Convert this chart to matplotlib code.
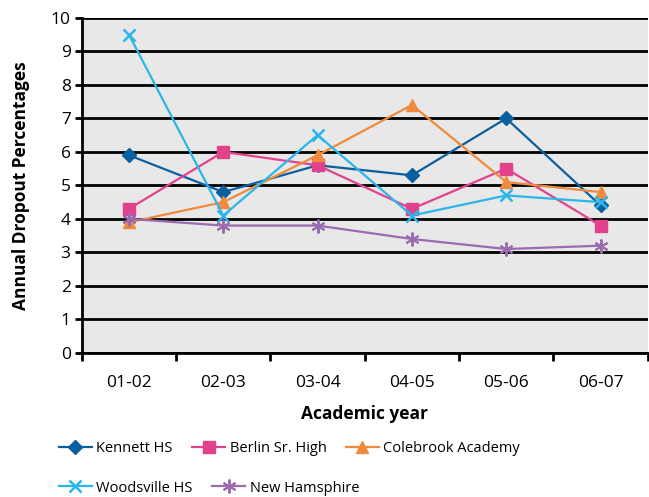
import numpy as np
import matplotlib.pyplot as plt

plt.rcParams['font.family'] = ['Open Sans', 'DejaVu Sans']

years = ['01-02', '02-03', '03-04', '04-05', '05-06', '06-07']
kennett = [5.9, 4.8, 5.6, 5.3, 7.0, 4.4]
berlin = [4.3, 6.0, 5.6, 4.3, 5.5, 3.8]
colebrook = [3.9, 4.5, 5.9, 7.4, 5.1, 4.8]
woodsville = [9.5, 4.1, 6.5, 4.1, 4.7, 4.5]
new_hampshire = [4.0, 3.8, 3.8, 3.4, 3.1, 3.2]

fig = plt.figure(figsize=(6.49, 4.97), dpi=100)
ax = fig.add_axes([0.126, 0.29, 0.872, 0.674])
ax.set_facecolor('#e8e8e8')

x = np.arange(len(years))
l1, = ax.plot(x, kennett, color='#0b5f9e', marker='D', markersize=7, lw=1.6, label='Kennett HS')
l2, = ax.plot(x, berlin, color='#e2428b', marker='s', markersize=9, lw=1.6, label='Berlin Sr. High')
l3, = ax.plot(x, colebrook, color='#f08a3c', marker='^', markersize=9, lw=1.6, label='Colebrook Academy')
l4, = ax.plot(x, woodsville, color='#2bb5e8', marker='x', markersize=9, mew=1.8, lw=1.6, label='Woodsville HS')
l5, = ax.plot(x, new_hampshire, color='#9b6bb0', marker=(6, 2, 0), markersize=10, mew=1.4, lw=1.6, label='New Hamsphire')

ax.set_xlim(-0.5, 5.5)
ax.set_ylim(0, 10)
ax.set_yticks(range(0, 11))
ax.yaxis.grid(True, color='black', lw=2)
ax.set_axisbelow(True)
ax.set_xticks(x)
ax.set_xticklabels(years, fontsize=12.5)
ax.set_xticks(np.arange(-0.5, 6, 1), minor=True)
ax.tick_params(axis='x', which='major', length=0, pad=16)
ax.tick_params(axis='x', which='minor', length=6, width=2, direction='out')
ax.tick_params(axis='y', length=5, width=2, labelsize=12.5, pad=3)
for s in ['top', 'right']:
    ax.spines[s].set_visible(False)
for s in ['left', 'bottom']:
    ax.spines[s].set_linewidth(2)

ax.set_xlabel('Academic year', fontsize=12.5, fontweight='bold', labelpad=10)
ax.set_ylabel('Annual Dropout Percentages', fontsize=12.5, fontweight='bold', labelpad=15)

leg1 = fig.legend(handles=[l1, l2, l3], ncol=3, loc='center left', bbox_to_anchor=(0.07, 0.098), frameon=False,
                  fontsize=10.5, handlelength=2.3, columnspacing=1.3, handletextpad=0.3)
leg2 = fig.legend(handles=[l4, l5], ncol=2, loc='center left', bbox_to_anchor=(0.07, 0.018), frameon=False,
                  fontsize=10.5, handlelength=2.3, columnspacing=1.3, handletextpad=0.3)

fig.savefig('out.png', dpi=100)
